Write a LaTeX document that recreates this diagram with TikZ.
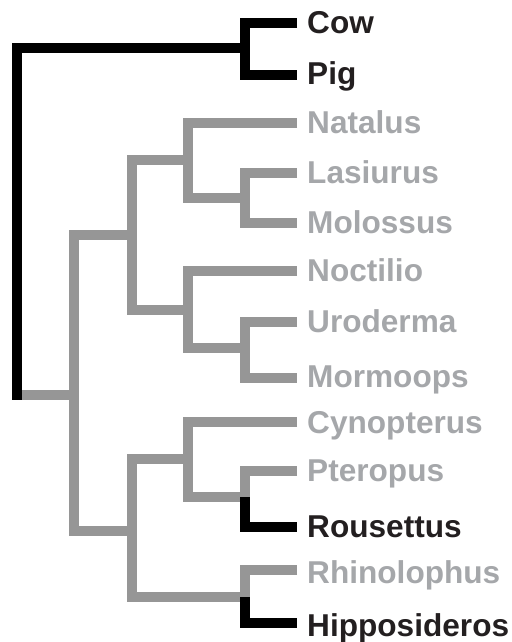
\documentclass[tikz,border=0pt]{standalone}
\usepackage{fontspec}
\setmainfont{Liberation Sans}
\definecolor{linegray}{RGB}{150,150,150}
\definecolor{textgray}{RGB}{165,167,170}
\definecolor{textblack}{RGB}{35,31,32}
\begin{document}
\begin{tikzpicture}[x=1pt,y=-1pt,
  branch/.style={line width=10pt,line join=miter,line cap=butt},
  gbranch/.style={branch,draw=linegray},
  kbranch/.style={branch,draw=black},
  taxon/.style={anchor=base west,inner sep=0pt,font=\fontsize{31.6}{31.6}\selectfont\bfseries},
  gtaxon/.style={taxon,text=textgray},
  ktaxon/.style={taxon,text=textblack}]
\useasboundingbox (0,0) rectangle (511,642);
% leaf tips
\coordinate (tCow) at (297,23);
\coordinate (tPig) at (297,75);
\coordinate (tNat) at (297,123);
\coordinate (tLas) at (297,173);
\coordinate (tMol) at (297,223);
\coordinate (tNoc) at (297,271);
\coordinate (tUro) at (297,322);
\coordinate (tMor) at (297,378);
\coordinate (tCyn) at (297,422);
\coordinate (tPte) at (297,471);
\coordinate (tRou) at (297,527);
\coordinate (tRhi) at (297,570);
\coordinate (tHip) at (297,623);
% internal nodes
\coordinate (nA) at (245,48);
\coordinate (nE) at (245,198);
\coordinate (nD) at (188.3,160);
\coordinate (nG) at (245,348);
\coordinate (nF) at (188.3,310);
\coordinate (nC) at (131.7,235);
\coordinate (nJ) at (245,497);
\coordinate (nI) at (188.3,459);
\coordinate (nK) at (245,597);
\coordinate (nH) at (131.7,531);
\coordinate (nB) at (74.3,395);
\coordinate (nRoot) at (16.7,222);
\coordinate (rb) at (16.7,395);
% labels
\node[ktaxon] (Cow) at (307,33.5) {Cow};
\node[ktaxon] (Pig) at (307,84.5) {Pig};
\node[gtaxon] (Nat) at (307,133.5) {Natalus};
\node[gtaxon] (Las) at (307,183.5) {Lasiurus};
\node[gtaxon] (Mol) at (307,233.5) {Molossus};
\node[gtaxon] (Noc) at (307,281.5) {Noctilio};
\node[gtaxon] (Uro) at (307,332.5) {Uroderma};
\node[gtaxon] (Mor) at (307,387) {Mormoops};
\node[gtaxon] (Cyn) at (307,433) {Cynopterus};
\node[gtaxon] (Pte) at (307,481.5) {Pteropus};
\node[ktaxon] (Rou) at (307,537.5) {Rousettus};
\node[gtaxon] (Rhi) at (307,583) {Rhinolophus};
\node[ktaxon] (Hip) at (307,636.5) {Hipposideros};
% gray tree
\draw[gbranch] (tLas) -| (nE) |- (tMol);
\draw[gbranch] (tNat) -| (nD) |- (nE);
\draw[gbranch] (tUro) -| (nG) |- (tMor);
\draw[gbranch] (tNoc) -| (nF) |- (nG);
\draw[gbranch] (nD) -| (nC) |- (nF);
\draw[gbranch] (tPte) -| (nJ);
\draw[gbranch] (tCyn) -| (nI) |- (nJ);
\draw[gbranch] (tRhi) -| (nK);
\draw[gbranch] (nI) -| (nH) |- (nK);
\draw[gbranch] (nC) -| (nB) |- (nH);
\draw[gbranch] (rb) -- (nB);
% black tree
\draw[kbranch] (tCow) -| (nA) |- (tPig);
\draw[kbranch,line cap=rect] (nA) -| (rb);
\draw[kbranch] (nJ) |- (tRou);
\draw[kbranch] (nK) |- (tHip);
\end{tikzpicture}
\end{document}
